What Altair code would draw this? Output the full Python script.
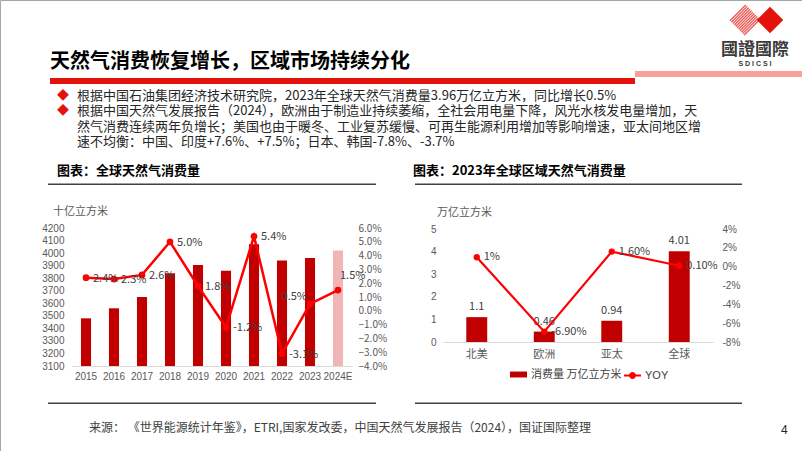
import json
import altair as alt
import pandas as pd

FONT = "Noto Sans CJK SC"
NUMF = "Liberation Sans"
W, H = 802, 451

# ---------------- data ----------------
years = ["2015", "2016", "2017", "2018", "2019", "2020", "2021", "2022", "2023", "2024E"]
consumption = [3480, 3560, 3650, 3840, 3905, 3860, 4070, 3940, 3960, 4020]
yoy = [2.4, 2.3, 2.6, 5.0, 1.8, -1.2, 5.4, -3.1, 0.5, 1.5]
yoy_labels = ["2.4%", "2.3%", "2.6%", "5.0%", "1.8%", "-1.2%", "5.4%", "-3.1%", "0.5%", "1.5%"]
left_ticks = [3100, 3200, 3300, 3400, 3500, 3600, 3700, 3800, 3900, 4000, 4100, 4200]
left_pct_ticks = [-4, -3, -2, -1, 0, 1, 2, 3, 4, 5, 6]

regions = ["北美", "欧洲", "亚太", "全球"]
region_cons = [1.1, 0.46, 0.94, 4.01]
region_cons_labels = ["1.1", "0.46", "0.94", "4.01"]
region_yoy = [1.0, -6.9, 1.6, 0.1]
region_yoy_labels = ["1%", "-6.90%", "1.60%", "0.10%"]
right_ticks = [0, 1, 2, 3, 4, 5]
right_pct_ticks = [-8, -6, -4, -2, 0, 2, 4]

bar_series = "消费量 万亿立方米"
line_series = "YOY"
kinds = ["实际", "预测"]

title = "天然气消费恢复增长，区域市场持续分化"
bullets = [
    "根据中国石油集团经济技术研究院，2023年全球天然气消费量3.96万亿立方米，同比增长0.5%",
    "根据中国天然气发展报告（2024），欧洲由于制造业持续萎缩，全社会用电量下降，风光水核发电量增加，天",
    "然气消费连续两年负增长；美国也由于暖冬、工业复苏缓慢、可再生能源利用增加等影响增速，亚太间地区增",
    "速不均衡：中国、印度+7.6%、+7.5%；日本、韩国-7.8%、-3.7%",
]
chart_title_left = "图表：全球天然气消费量"
chart_title_right = "图表：2023年全球区域天然气消费量"
unit_left = "十亿立方米"
unit_right = "万亿立方米"
source = "来源：  《世界能源统计年鉴》，ETRI,国家发改委，中国天然气发展报告（2024），国证国际整理"
page_no = "4"
logo_cn = "國證國際"
logo_en = "S  D  I  C  S  I"

RED = "#c00000"
LINE = "#ff0000"


# ---------------- helpers ----------------
def txt(text, x, y, size=11, color="#404040", weight="normal", align="left",
        baseline="middle", font=FONT, **kw):
    return alt.Chart(pd.DataFrame({"t": [text]})).mark_text(
        align=align, baseline=baseline, fontSize=size, color=color,
        fontWeight=weight, font=font, **kw
    ).encode(x=alt.value(x), y=alt.value(y), text="t:N")


def box(x1, x2, y1, y2, color):
    return alt.Chart(pd.DataFrame({"a": [0]})).mark_rect(color=color).encode(
        x=alt.value(x1), x2=alt.value(x2), y=alt.value(y1), y2=alt.value(y2))


def ax(orient, offset, values=None, label_expr=None, size=10, color="#595959",
       pad=6, font=NUMF, domain=False):
    kw = dict(orient=orient, offset=offset, title=None, ticks=False, tickSize=0,
              grid=False, labelFontSize=size, labelColor=color, labelPadding=pad,
              labelFont=font, domain=domain, labelAngle=0, labelOverlap=False)
    if domain:
        kw.update(domainColor="#d9d9d9", domainWidth=1)
    if values is not None:
        kw["values"] = values
    if label_expr:
        kw["labelExpr"] = label_expr
    return alt.Axis(**kw)


def not_in(field, vals):
    return f"indexof({json.dumps(vals, ensure_ascii=False)}, datum.{field}) < 0"


def is_in(field, vals):
    return f"indexof({json.dumps(vals, ensure_ascii=False)}, datum.{field}) >= 0"


layers = []

# ---------------- header ----------------
layers.append(txt(title, 50, 62, size=20, color="#000000", weight="bold"))
layers.append(box(50, 635, 78, 84, "#e3120b"))
layers.append(box(635, 802, 71, 77, "#f6a29b"))

# logo
hatch = "".join(
    f"M{(c - 1) / 2:.3f},{(c + 1) / 2:.3f}L{(c + 1) / 2:.3f},{(c - 1) / 2:.3f}"
    for c in [-0.9, -0.72, -0.54, -0.36, -0.18, 0.0, 0.18, 0.36, 0.54, 0.72, 0.9]
)
layers.append(alt.Chart(pd.DataFrame({"a": [0]})).mark_point(
    shape=hatch, filled=False, stroke="#e3120b", strokeWidth=1.3, size=1000
).encode(x=alt.value(745), y=alt.value(20)))
layers.append(alt.Chart(pd.DataFrame({"a": [0]})).mark_point(
    shape="diamond", filled=True, color="#e3120b", size=700, opacity=1
).encode(x=alt.value(770), y=alt.value(20)))
layers.append(txt(logo_cn, 755, 50, size=17, color="#3a3a3a", weight="bold", align="center"))
layers.append(txt(logo_en, 755, 63.5, size=7, color="#3a3a3a", weight="bold", align="center",
                  font=NUMF))

# bullets
layers.append(alt.Chart(pd.DataFrame({"t": ["\n".join(bullets)]})).mark_text(
    align="left", baseline="top", fontSize=13, color="#262626", font=FONT,
    lineBreak="\n", lineHeight=15.3
).encode(x=alt.value(77), y=alt.value(90), text="t:N"))
layers.append(alt.Chart(pd.DataFrame({"t": ["◆\n◆"]})).mark_text(
    align="center", baseline="top", fontSize=12, color="#e3120b", font=FONT,
    lineBreak="\n", lineHeight=15.3
).encode(x=alt.value(63), y=alt.value(90.5), text="t:N"))

# chart titles & rules
layers.append(txt(chart_title_left, 57, 171, size=13, color="#000000", weight="bold"))
layers.append(txt(chart_title_right, 413, 171, size=13, color="#000000", weight="bold"))
layers.append(box(48, 376, 183.5, 185, "#404040"))
layers.append(box(415, 742, 183.5, 185, "#404040"))
layers.append(box(48, 376, 402.5, 404, "#404040"))
layers.append(box(415, 742, 402.5, 404, "#404040"))

# units
layers.append(txt(unit_left, 53, 212, size=11, color="#595959"))
layers.append(txt(unit_right, 437, 213, size=11, color="#595959"))

# footer
layers.append(txt(source, 89, 428, size=12, color="#404040"))
layers.append(txt(page_no, 781, 430, size=12, color="#262626", font=NUMF))

# ---------------- left chart ----------------
df_l = pd.DataFrame({"year": years, "cons": consumption, "yoy": yoy, "lab": yoy_labels})
df_l["kind"] = [kinds[1] if y.endswith("E") else kinds[0] for y in years]


def xs_l():
    return alt.Scale(type="band", domain=years, range=[72, 352],
                     paddingInner=0.64, paddingOuter=0.32)


def ys_l():
    return alt.Scale(domain=[3100, 4200], range=[366, 228], nice=False, zero=False)


def yp_l():
    return alt.Scale(domain=[-4, 6], range=[366, 228], nice=False, zero=False)


bars_l = alt.Chart(df_l).mark_bar().encode(
    x=alt.X("year:N", sort=None, scale=xs_l(),
            axis=ax("bottom", 366 - H, pad=5, domain=True)),
    y=alt.Y("cons:Q", scale=ys_l(),
            axis=ax("left", -72, values=left_ticks, pad=8,
                    label_expr="format(datum.value, 'd')")),
    y2=alt.datum(3100),
    color=alt.Color("kind:N", scale=alt.Scale(domain=kinds, range=[RED, "#f0b6b6"]),
                    legend=None),
)
layers.append(bars_l)

line_l = alt.Chart(df_l).mark_line(
    color=LINE, strokeWidth=2.5,
    point=alt.OverlayMarkDef(filled=True, size=45, color=LINE)
).encode(
    x=alt.X("year:N", sort=None, scale=xs_l(), axis=None),
    y=alt.Y("yoy:Q", scale=yp_l(),
            axis=ax("right", 352 - W, values=left_pct_ticks, pad=6, font=FONT,
                    label_expr="format(datum.value, '.1f') + '%'")),
)
layers.append(line_l)

up_left = ["2023"]
up_right = ["2024E"]


def lab_l(filt, **kw):
    return alt.Chart(df_l).transform_filter(filt).mark_text(
        fontSize=11, color="#404040", font=FONT, baseline="middle", **kw
    ).encode(
        x=alt.X("year:N", sort=None, scale=xs_l(), axis=None),
        y=alt.Y("yoy:Q", scale=yp_l(), axis=None),
        text="lab:N",
    )


layers.append(lab_l(not_in("year", up_left + up_right), align="left", dx=7, dy=1))
layers.append(lab_l(is_in("year", up_left), align="right", dx=-3, dy=-7))
layers.append(lab_l(is_in("year", up_right), align="left", dx=2, dy=-14))

# ---------------- right chart ----------------
df_r = pd.DataFrame({
    "region": regions, "cons": region_cons, "clab": region_cons_labels,
    "yoy": region_yoy, "ylab": region_yoy_labels,
    "s1": [bar_series] * len(regions), "s2": [line_series] * len(regions),
})


def xs_r():
    return alt.Scale(type="band", domain=regions, range=[443, 713],
                     paddingInner=0.69, paddingOuter=0.345)


def ys_r():
    return alt.Scale(domain=[0, 5], range=[342, 229], nice=False, zero=False)


def yp_r():
    return alt.Scale(domain=[-8, 4], range=[342, 229], nice=False, zero=False)


bars_r = alt.Chart(df_r).mark_bar().encode(
    x=alt.X("region:N", sort=None, scale=xs_r(),
            axis=ax("bottom", 342 - H, pad=6, size=11, font=FONT, domain=True)),
    y=alt.Y("cons:Q", scale=ys_r(), axis=ax("left", -443, values=right_ticks, pad=7)),
    y2=alt.datum(0),
    color=alt.Color("s1:N", scale=alt.Scale(domain=[bar_series], range=[RED]),
                    legend=alt.Legend(
                        orient="none", legendX=510, legendY=366, title=None,
                        direction="horizontal",
                        symbolType="M-1,-0.35H1V0.35H-1Z", symbolSize=289,
                        symbolStrokeWidth=0, labelFontSize=11, labelColor="#404040",
                        labelFont=FONT, labelOffset=4)),
)
layers.append(bars_r)

bar_lab_r = alt.Chart(df_r).mark_text(
    fontSize=11, color="#404040", font=FONT, baseline="middle", align="center", dy=-10
).encode(
    x=alt.X("region:N", sort=None, scale=xs_r(), axis=None),
    y=alt.Y("cons:Q", scale=ys_r(), axis=None),
    text="clab:N",
)
layers.append(bar_lab_r)

line_r = alt.Chart(df_r).mark_line(
    strokeWidth=2.2,
    point=alt.OverlayMarkDef(filled=True, size=40)
).encode(
    x=alt.X("region:N", sort=None, scale=xs_r(), axis=None),
    y=alt.Y("yoy:Q", scale=yp_r(),
            axis=ax("right", 713 - W, values=right_pct_ticks, pad=9,
                    label_expr="datum.value + '%'")),
    color=alt.Color("s2:N", scale=alt.Scale(domain=[line_series], range=[LINE]),
                    legend=alt.Legend(
                        orient="none", legendX=623, legendY=366, title=None,
                        direction="horizontal",
                        symbolType="M-1,0H1M-0.28,0A0.28,0.28,0,1,0,0.28,0A0.28,0.28,0,1,0,-0.28,0",
                        symbolSize=289, symbolStrokeWidth=2,
                        symbolStrokeColor=LINE, symbolFillColor=LINE,
                        labelFontSize=11, labelColor="#404040", labelFont=NUMF,
                        labelOffset=3)),
)
layers.append(line_r)

line_lab_r = alt.Chart(df_r).mark_text(
    fontSize=11, color="#404040", font=FONT, baseline="middle", align="left", dx=7
).encode(
    x=alt.X("region:N", sort=None, scale=xs_r(), axis=None),
    y=alt.Y("yoy:Q", scale=yp_r(), axis=None),
    text="ylab:N",
)
layers.append(line_lab_r)

chart = alt.layer(*layers).resolve_scale(
    x="independent", y="independent", color="independent"
).resolve_axis(
    x="independent", y="independent"
).resolve_legend(
    color="independent"
).properties(
    width=W, height=H, autosize=alt.AutoSizeParams(type="none"), padding=0,
    background="white"
).configure_view(stroke="#a6a6a6", strokeWidth=1)

chart.save("out.html", embed_options={"renderer": "svg", "actions": False})
